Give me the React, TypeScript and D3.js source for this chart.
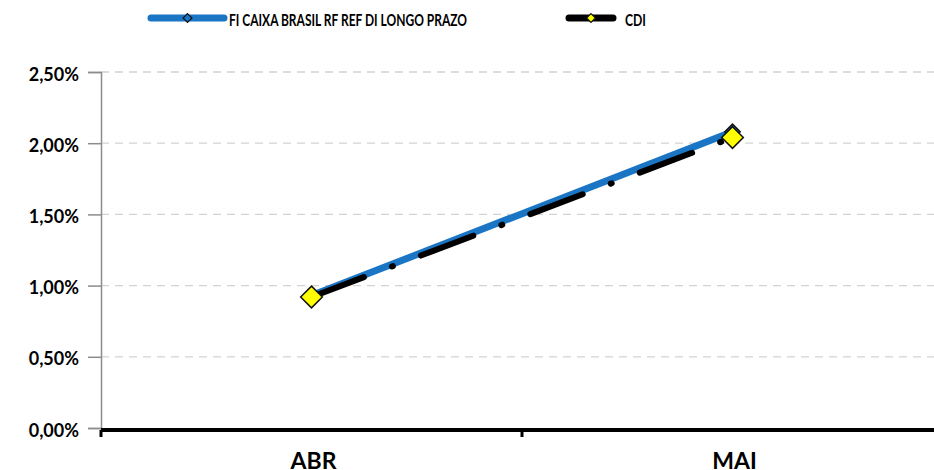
import React, { useEffect, useRef } from 'react';
import * as d3 from 'd3';

const months = ['ABR', 'MAI'];
const fundValues = [0.93, 2.08];
const cdiValues = [0.92, 2.04];
const yTicks = [0, 0.5, 1.0, 1.5, 2.0, 2.5];
const fundName = 'FI CAIXA BRASIL RF REF DI LONGO PRAZO';
const cdiName = 'CDI';

const FONT = "Lato, 'Open Sans', sans-serif";

const App: React.FC = () => {
  const svgRef = useRef<SVGSVGElement>(null);

  useEffect(() => {
    if (!svgRef.current) return;
    const svg = d3.select(svgRef.current);
    svg.selectAll('*').remove();

    const left = 101;
    const right = 943;
    const top = 72;
    const bottom = 428;

    const x = d3.scaleBand<string>().domain(months).range([left, right]);
    const y = d3.scaleLinear().domain([0, 2.5]).range([bottom, top]);
    const cx = (m: string) => (x(m) as number) + x.bandwidth() / 2;

    // Gridlines
    svg.append('g')
      .selectAll('line')
      .data(yTicks.filter(t => t > 0))
      .join('line')
      .attr('x1', left)
      .attr('x2', 934)
      .attr('y1', d => y(d))
      .attr('y2', d => y(d))
      .attr('stroke', '#d4d4d4')
      .attr('stroke-width', 1.3)
      .attr('stroke-dasharray', '8,6');

    // Y axis
    const yAxis = d3.axisLeft(y)
      .tickValues(yTicks)
      .tickSize(13)
      .tickPadding(9)
      .tickFormat(d => `${d3.format('.2f')(d as number).replace('.', ',')}%`);
    const gy = svg.append('g').attr('transform', `translate(${left},0)`).call(yAxis);
    gy.select('.domain').attr('stroke', '#8c8c8c').attr('stroke-width', 1.5);
    gy.selectAll('.tick line').attr('stroke', '#8c8c8c').attr('stroke-width', 1.5);
    gy.selectAll('.tick text')
      .attr('fill', '#000')
      .attr('font-family', FONT)
      .attr('font-weight', 'bold')
      .attr('font-size', 18)
      .attr('dy', '0.45em');

    // X axis
    const gx = svg.append('g').attr('transform', `translate(0,${bottom + 2})`);
    gx.append('line')
      .attr('x1', left)
      .attr('x2', right)
      .attr('stroke', '#000')
      .attr('stroke-width', 4);
    const bounds = [...months.map(m => x(m) as number), right];
    gx.selectAll('line.tk')
      .data(bounds)
      .join('line')
      .attr('class', 'tk')
      .attr('x1', d => d)
      .attr('x2', d => d)
      .attr('y1', 0)
      .attr('y2', 7)
      .attr('stroke', '#000')
      .attr('stroke-width', 3);
    gx.selectAll('text')
      .data(months)
      .join('text')
      .attr('x', d => cx(d) + 2)
      .attr('y', 39)
      .attr('text-anchor', 'middle')
      .attr('font-family', FONT)
      .attr('font-weight', 'bold')
      .attr('font-size', 23)
      .text(d => d);

    const diamond = d3.symbol().type(d3.symbolDiamond2);

    // Fund line
    const line = d3.line<number>().x((_, i) => cx(months[i])).y(d => y(d));
    svg.append('path')
      .datum(fundValues)
      .attr('fill', 'none')
      .attr('stroke', '#1a75c4')
      .attr('stroke-width', 7)
      .attr('d', line);
    svg.append('g')
      .selectAll('path')
      .data(fundValues)
      .join('path')
      .attr('transform', (d, i) => `translate(${cx(months[i])},${y(d)})`)
      .attr('d', diamond.size(150)())
      .attr('fill', '#1a75c4')
      .attr('stroke', '#111')
      .attr('stroke-width', 1.5);

    // CDI line
    svg.append('path')
      .datum(cdiValues)
      .attr('fill', 'none')
      .attr('stroke', '#000')
      .attr('stroke-width', 6)
      .attr('stroke-linecap', 'round')
      .attr('stroke-dasharray', '56,30,1,30')
      .attr('d', line);
    svg.append('g')
      .selectAll('path')
      .data(cdiValues)
      .join('path')
      .attr('transform', (d, i) => `translate(${cx(months[i])},${y(d)})`)
      .attr('d', diamond.size(300)())
      .attr('fill', '#ffff00')
      .attr('stroke', '#111')
      .attr('stroke-width', 1.5);

    // Legend
    const legend = [
      { name: fundName, x0: 151, x1: 224, tx: 229, tw: 238, color: '#1a75c4', fill: '#1a75c4' },
      { name: cdiName, x0: 569, x1: 613, tx: 625, tw: 21, color: '#000', fill: '#ffff00' },
    ];
    const lg = svg.append('g');
    legend.forEach(l => {
      lg.append('line')
        .attr('x1', l.x0)
        .attr('x2', l.x1)
        .attr('y1', 18)
        .attr('y2', 18)
        .attr('stroke', l.color)
        .attr('stroke-width', 7)
        .attr('stroke-linecap', 'round');
      lg.append('path')
        .attr('transform', `translate(${(l.x0 + l.x1) / 2},18)`)
        .attr('d', diamond.size(50)())
        .attr('fill', l.fill)
        .attr('stroke', '#111')
        .attr('stroke-width', 1.2);
      lg.append('text')
        .attr('x', l.tx)
        .attr('y', 26)
        .attr('font-family', FONT)
        .attr('font-weight', 'bold')
        .attr('font-size', 17.5)
        .attr('textLength', l.tw)
        .attr('lengthAdjust', 'spacingAndGlyphs')
        .text(l.name);
    });
  }, []);

  return (
    <svg
      ref={svgRef}
      width={934}
      height={470}
      style={{ position: 'absolute', left: 0, top: 0, background: '#fff' }}
    />
  );
};

export default App;
